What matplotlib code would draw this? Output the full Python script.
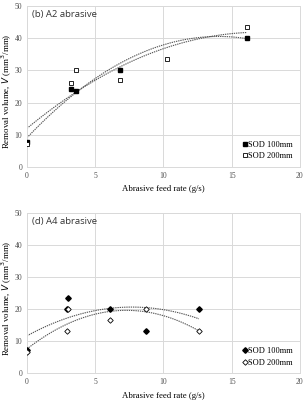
import numpy as np
import matplotlib.pyplot as plt

plt.rcParams['font.family'] = ['Liberation Serif', 'DejaVu Serif']

# (b) A2 abrasive
a2_x100 = [0.0, 3.2, 3.6, 6.8, 16.1]
a2_y100 = [7.8, 24.2, 23.6, 30.2, 40.1]
a2_x200 = [0.0, 3.2, 3.6, 6.8, 10.3, 16.1]
a2_y200 = [7.0, 26.2, 30.2, 26.9, 33.5, 43.5]

# (d) A4 abrasive
a4_x100 = [0.0, 2.9, 3.0, 6.1, 8.7, 12.6]
a4_y100 = [7.2, 20.0, 23.4, 20.0, 13.3, 20.0]
a4_x200 = [0.0, 2.9, 3.0, 6.1, 8.7, 12.6]
a4_y200 = [6.7, 13.3, 20.0, 16.7, 20.0, 13.3]

x_ticks = [0, 5, 10, 15, 20]
y_ticks = [0, 10, 20, 30, 40, 50]

fig = plt.figure(figsize=(3.06, 4.03), dpi=100)
ax_top = fig.add_axes([0.088, 0.586, 0.892, 0.399])
ax_bot = fig.add_axes([0.088, 0.074, 0.892, 0.397])


def trend(ax, x, y):
    # 2nd order trendline like the spreadsheet one
    c = np.polyfit(x, y, 2)
    xs = np.linspace(min(x), max(x), 100)
    ax.plot(xs, np.polyval(c, xs), linestyle=(0, (1.2, 0.8)), color='#555555', lw=0.8, zorder=2)


def style(ax, title):
    ax.set_xlim(0, 20)
    ax.set_ylim(0, 50)
    ax.set_xticks(x_ticks)
    ax.set_yticks(y_ticks)
    ax.grid(color='#d9d9d9', lw=0.7)
    ax.set_axisbelow(True)
    for s in ax.spines.values():
        s.set_color('#d9d9d9')
        s.set_linewidth(0.7)
    ax.tick_params(length=0, labelsize=5.5, colors='#505050', pad=3.5)
    ax.set_xlabel('Abrasive feed rate (g/s)', fontsize=6.3, labelpad=4)
    ax.set_ylabel(r'Removal volume, $\mathit{V}$ (mm$^3$/mm)', fontsize=6.4, va='center')
    ax.yaxis.set_label_coords(-0.074, 0.47)
    ax.text(0.02, 0.975, title, transform=ax.transAxes, ha='left', va='top',
            fontsize=6.8, family=['Open Sans', 'DejaVu Sans'], color='#333333')
    ax.legend(loc='lower right', fontsize=6, frameon=False, handletextpad=0.05,
              handlelength=0.7, borderaxespad=0.4, labelspacing=0.4)


# top panel
trend(ax_top, a2_x100, a2_y100)
trend(ax_top, a2_x200, a2_y200)
ax_top.plot(a2_x100, a2_y100, 's', color='black', ms=3.2, label='SOD 100mm', zorder=3)
ax_top.plot(a2_x200, a2_y200, 's', mfc='white', mec='black', mew=0.6, ms=3.2,
            label='SOD 200mm', zorder=3)
style(ax_top, '(b) A2 abrasive')

# bottom panel
trend(ax_bot, a4_x100, a4_y100)
trend(ax_bot, a4_x200, a4_y200)
ax_bot.plot(a4_x100, a4_y100, 'D', color='black', ms=2.8, label='SOD 100mm', zorder=3)
ax_bot.plot(a4_x200, a4_y200, 'D', mfc='white', mec='black', mew=0.6, ms=2.8,
            label='SOD 200mm', zorder=3)
style(ax_bot, '(d) A4 abrasive')

fig.savefig('out.png', dpi=100)
